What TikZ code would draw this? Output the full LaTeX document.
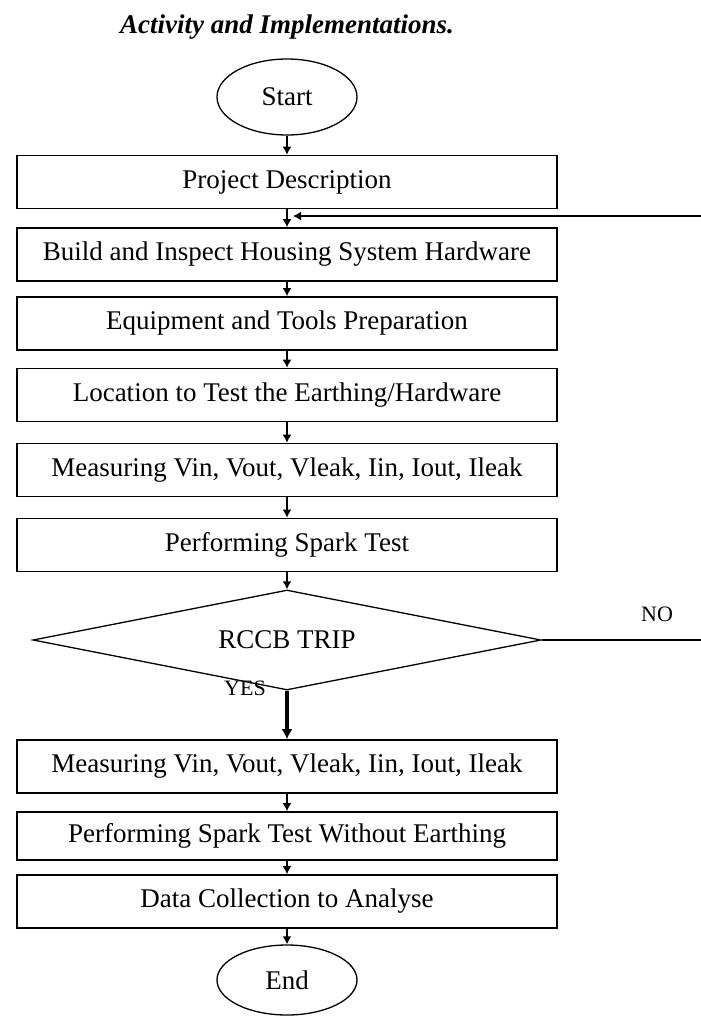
\documentclass[tikz,border=0pt]{standalone}
\usepackage{fontspec}
\setmainfont{Liberation Serif}
\usetikzlibrary{%
    shapes.geometric,%
    arrows.meta
}

\begin{document}
\begin{tikzpicture}[x=1pt,y=-1pt,
    txt/.style={font={\fontsize{27}{30}\selectfont}},
    stepbox/.style={txt,draw,line width=1.6pt,minimum width=540pt,
        minimum height=53pt,inner sep=0pt},
    terminal/.style={txt,draw,ellipse,line width=1.3pt,minimum width=140pt,
        minimum height=76pt,inner sep=0pt},
    decision/.style={txt,draw,diamond,aspect=5,line width=1.3pt,
        minimum width=508pt,minimum height=100pt,inner sep=0pt},
    flow/.style={line width=2.2pt,-{Latex[length=8pt,width=9pt]}}]
\useasboundingbox (0,0) rectangle (701,1018);

\node[font={\fontsize{27}{30}\selectfont\bfseries\itshape}] (title) at (287,27) {Activity and Implementations.};

\node[terminal] (start) at (287,97) {Start};
\node[stepbox] (desc) at (287,182) {Project Description};
\node[stepbox] (build) at (287,254.5) {Build and Inspect Housing System Hardware};
\node[stepbox] (equip) at (287,323.5) {Equipment and Tools Preparation};
\node[stepbox] (loc) at (287,395) {Location to Test the Earthing/Hardware};
\node[stepbox] (meas1) at (287,470) {Measuring Vin, Vout, Vleak, Iin, Iout, Ileak};
\node[stepbox] (spark1) at (287,545) {Performing Spark Test};
\node[decision] (trip) at (287,640) {RCCB TRIP};
\node[stepbox] (meas2) at (287,766.5) {Measuring Vin, Vout, Vleak, Iin, Iout, Ileak};
\node[stepbox,minimum height=48pt] (spark2) at (287,836) {Performing Spark Test Without Earthing};
\node[stepbox] (data) at (287,901.5) {Data Collection to Analyse};
\node[terminal,minimum height=70pt] (end) at (287,980) {End};

\draw[flow](start)--(desc);
\draw[flow](desc)--(build);
\draw[flow](build)--(equip);
\draw[flow](equip)--(loc);
\draw[flow](loc)--(meas1);
\draw[flow](meas1)--(spark1);
\draw[flow](spark1.south)--(trip.north);
\draw[line width=4.5pt,-{Latex[length=10pt,width=11pt]}](trip.south)--(meas2.north);
\draw[flow](meas2)--(spark2);
\draw[flow](spark2)--(data);
\draw[flow](data)--(end);

% loop back from the NO branch
\coordinate (noend) at (701,640);
\coordinate (backin) at (701,216);
\coordinate (backtip) at (293,216);
\draw[line width=1.6pt](trip.east)--(noend);
\draw[flow](backin)--(backtip);

\node[txt,font={\fontsize{22}{26}\selectfont}] (no) at (657,614) {NO};
\node[txt,font={\fontsize{22}{26}\selectfont}] (yes) at (245,688) {YES};
\end{tikzpicture}
\end{document}
